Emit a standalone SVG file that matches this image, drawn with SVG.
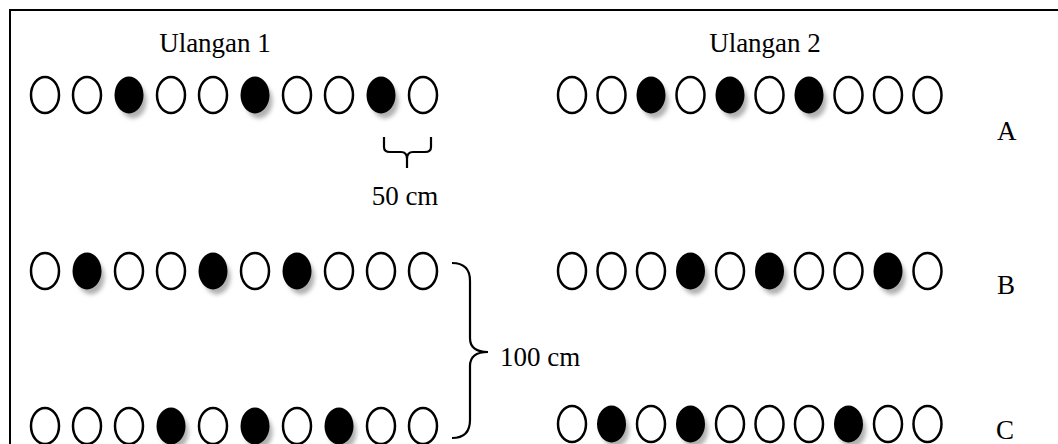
<svg xmlns="http://www.w3.org/2000/svg" width="1058" height="444" viewBox="0 0 1058 444">
<defs>
<filter id="blur" x="-50%" y="-50%" width="200%" height="200%"><feGaussianBlur stdDeviation="2.2"/></filter>
<g id="o"><ellipse cx="0" cy="0" rx="14" ry="18" fill="#fff" stroke="#000" stroke-width="2.5"/></g>
<g id="f"><ellipse cx="4" cy="6" rx="13.5" ry="17.5" fill="#b0b0b0" filter="url(#blur)"/><ellipse cx="0" cy="0" rx="14.5" ry="18.5" fill="#000"/></g>
</defs>
<style>
text{font-family:"Liberation Serif","Times New Roman",serif;font-size:27px;fill:#000}
.br{fill:none;stroke:#000;stroke-width:2.2}
</style>
<rect width="1058" height="444" fill="#fff"/>
<path d="M10 444 V10 H1058" fill="none" stroke="#000" stroke-width="2"/>
<g id="titles">
<text x="215" y="52" text-anchor="middle">Ulangan 1</text>
<text x="765" y="52" text-anchor="middle">Ulangan 2</text>
</g>
<g id="rowA-left" transform="translate(0,95)">
<use href="#o" x="45"/><use href="#o" x="87"/><use href="#f" x="129"/><use href="#o" x="171"/><use href="#o" x="213"/><use href="#f" x="255"/><use href="#o" x="297"/><use href="#o" x="339"/><use href="#f" x="381"/><use href="#o" x="423"/>
</g>
<g id="rowA-right" transform="translate(0,95)">
<use href="#o" x="572"/><use href="#o" x="611.5"/><use href="#f" x="651"/><use href="#o" x="690.5"/><use href="#f" x="730"/><use href="#o" x="769.5"/><use href="#f" x="809"/><use href="#o" x="848.5"/><use href="#o" x="888"/><use href="#o" x="927.5"/>
</g>
<g id="rowB-left" transform="translate(0,271)">
<use href="#o" x="45"/><use href="#f" x="87"/><use href="#o" x="129"/><use href="#o" x="171"/><use href="#f" x="213"/><use href="#o" x="255"/><use href="#f" x="297"/><use href="#o" x="339"/><use href="#o" x="381"/><use href="#o" x="423"/>
</g>
<g id="rowB-right" transform="translate(0,271)">
<use href="#o" x="572"/><use href="#o" x="611.5"/><use href="#o" x="651"/><use href="#f" x="690.5"/><use href="#o" x="730"/><use href="#f" x="769.5"/><use href="#o" x="809"/><use href="#o" x="848.5"/><use href="#f" x="888"/><use href="#o" x="927.5"/>
</g>
<g id="rowC-left" transform="translate(0,426)">
<use href="#o" x="45"/><use href="#o" x="87"/><use href="#o" x="129"/><use href="#f" x="171"/><use href="#o" x="213"/><use href="#f" x="255"/><use href="#o" x="297"/><use href="#f" x="339"/><use href="#o" x="381"/><use href="#o" x="423"/>
</g>
<g id="rowC-right" transform="translate(0,424)">
<use href="#o" x="572"/><use href="#f" x="611.5"/><use href="#o" x="651"/><use href="#f" x="690.5"/><use href="#o" x="730"/><use href="#o" x="769.5"/><use href="#o" x="809"/><use href="#f" x="848.5"/><use href="#o" x="888"/><use href="#o" x="927.5"/>
</g>
<g id="labels">
<text x="997" y="140">A</text>
<text x="997" y="294">B</text>
<text x="996" y="439">C</text>
</g>
<g id="connectors">
<path class="br" d="M384 137 V147 Q384 152 390 152 H401 Q407 152 407 159 V168 M407 159 Q407 152 413 152 H425 Q431 152 431 147 V137"/>
<path class="br" d="M452 263 Q470 263 470 281 V338 Q470 352 488 352 Q470 352 470 366 V420 Q470 438 452 438"/>
</g>
<g id="dims">
<text x="405" y="205" text-anchor="middle">50 cm</text>
<text x="500" y="366">100 cm</text>
</g>
</svg>
